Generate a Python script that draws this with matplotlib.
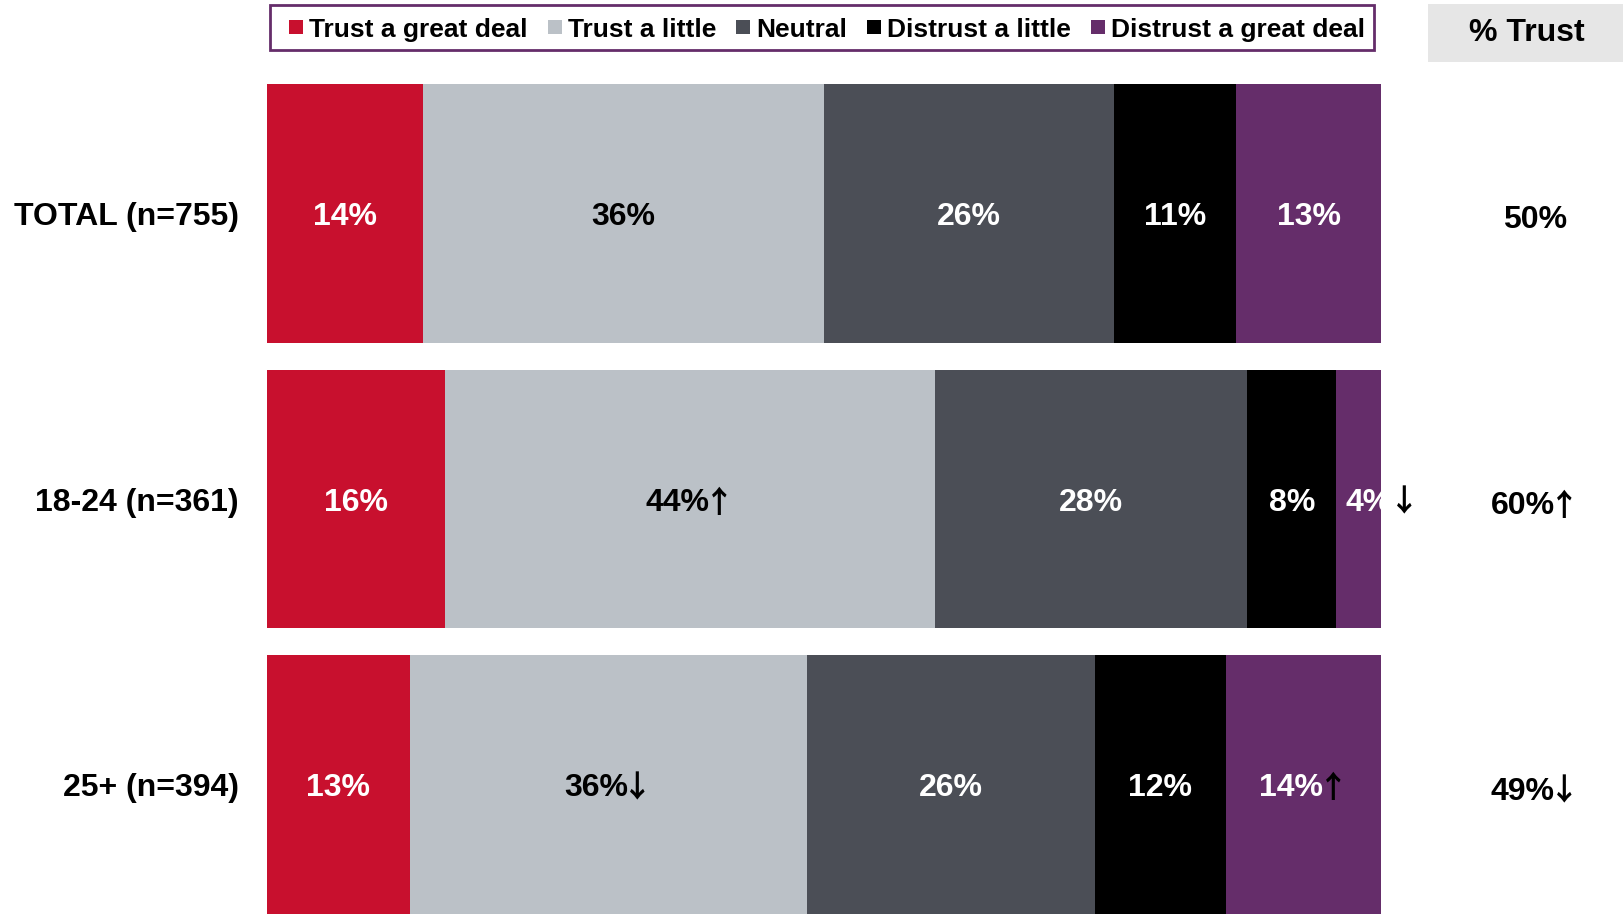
import matplotlib
matplotlib.use('Agg')
import matplotlib.pyplot as plt
from matplotlib.patches import Rectangle
from matplotlib.transforms import blended_transform_factory
from matplotlib.offsetbox import TextArea, HPacker, AnnotationBbox

# ---------------- data ----------------
categories = ['TOTAL (n=755)', '18-24 (n=361)', '25+ (n=394)']
series_names = ['Trust a great deal', 'Trust a little', 'Neutral',
                'Distrust a little', 'Distrust a great deal']
trust_great = [14.0, 16.0, 12.8]
trust_little = [36.0, 44.0, 35.7]
neutral = [26.0, 28.0, 25.8]
distrust_little = [11.0, 8.0, 11.8]
distrust_great = [13.0, 4.0, 13.9]
# significance markers
sig_trust_great = ['', '', '']
sig_trust_little = ['', 'up', 'down']
sig_neutral = ['', '', '']
sig_distrust_little = ['', '', '']
sig_distrust_great = ['', 'down', 'up']
pct_trust = [50, 60, 49]
sig_pct_trust = ['', 'up', 'down']

# ---------------- style ----------------
colors = ['#C8102E', '#BBC1C7', '#4B4E56', '#000000', '#652D6A']
text_colors = ['white', 'black', 'white', 'white', 'white']
FAM = ['Liberation Sans', 'DejaVu Sans']
AFAM = ['Noto Sans CJK JP', 'DejaVu Sans']
FS = 23
AFS = 22
ARROW = {'up': '\u2191', 'down': '\u2193', '': ''}

W, H = 1623, 914
fig = plt.figure(figsize=(W / 100, H / 100), dpi=100)
ax = fig.add_axes([267 / W, 0, 1114 / W, 830 / H])
DY = 0.013  # small downward nudge of labels (data units)


def px(xp, yp):
    """pixel (from top-left) -> figure fraction"""
    return xp / W, 1 - yp / H


def label_with_arrow(axis, x, yv, text, sig, color, xycoords='data'):
    parts = [TextArea(text, textprops=dict(color=color, fontsize=FS, fontweight='bold',
                                           family=FAM))]
    if sig:
        parts.append(TextArea(ARROW[sig], textprops=dict(color='black', fontsize=AFS,
                                                         fontweight='bold', family=AFAM)))
    box = HPacker(children=parts, align='center', pad=0, sep=-4)
    ab = AnnotationBbox(box, (x, yv), xycoords=xycoords, frameon=False,
                        box_alignment=(0.5, 0.5), pad=0, annotation_clip=False)
    axis.add_artist(ab)


series = [trust_great, trust_little, neutral, distrust_little, distrust_great]
sigs = [sig_trust_great, sig_trust_little, sig_neutral, sig_distrust_little, sig_distrust_great]
y = list(range(len(categories)))
bh = 0.905
lefts = [0.0] * len(categories)
for s_i, (vals, sig) in enumerate(zip(series, sigs)):
    bars = ax.barh(y, vals, left=lefts, height=bh, color=colors[s_i], linewidth=0)
    for r, (v, l) in enumerate(zip(vals, lefts)):
        lab = f'{round(v):.0f}%'
        if v < 6:
            t = ax.text(l + 0.8, r + DY, lab, ha='left', va='center', color=text_colors[s_i],
                        fontsize=FS, fontweight='bold', family=FAM)
            t.set_clip_path(bars[r])
            if sig[r]:
                ax.text(l + v + 2.1, r + DY, ARROW[sig[r]], ha='center', va='center',
                        color='black', fontsize=AFS, fontweight='bold', family=AFAM,
                        clip_on=False)
        else:
            label_with_arrow(ax, l + v / 2, r + DY, lab, sig[r], text_colors[s_i])
    lefts = [a + b for a, b in zip(lefts, vals)]

ax.set_xlim(0, 100)
ax.set_ylim(len(categories) - 1 + bh / 2, -bh / 2)
ax.axis('off')

tr = blended_transform_factory(fig.transFigure, ax.transData)
for r, cat in enumerate(categories):
    ax.text(239 / W, r + DY, cat, transform=tr, ha='right', va='center', fontsize=FS,
            fontweight='bold', family=FAM, clip_on=False)
    label_with_arrow(ax, 1535 / W, r + 0.025, f'{pct_trust[r]}%', sig_pct_trust[r], 'black',
                     xycoords=tr)

# % Trust header box
fig.patches.append(Rectangle(px(1428, 62), (W - 1428) / W, 58 / H,
                             transform=fig.transFigure, facecolor='#E6E6E6', edgecolor='none'))
fig.text(*px(1527, 33), '% Trust', ha='center', va='center', fontsize=FS,
         fontweight='bold', family=FAM)

# legend (laid out manually, one entry after another)
LFS = 19
fig.patches.append(Rectangle(px(270, 50), (1374 - 270) / W, 45 / H, transform=fig.transFigure,
                             facecolor='white', edgecolor='#652D6A', linewidth=2))
renderer = fig.canvas.get_renderer()
xcur = 289
for c, name in zip(colors, series_names):
    fig.patches.append(Rectangle(px(xcur, 34), 14 / W, 14 / H, transform=fig.transFigure,
                                 facecolor=c, edgecolor='none'))
    t = fig.text(*px(xcur + 20, 30), name, ha='left', va='center', fontsize=LFS,
                 fontweight='bold', family=FAM)
    wpx = t.get_window_extent(renderer=renderer).width
    xcur = xcur + 20 + wpx + 20

fig.savefig('out.png', dpi=100)
